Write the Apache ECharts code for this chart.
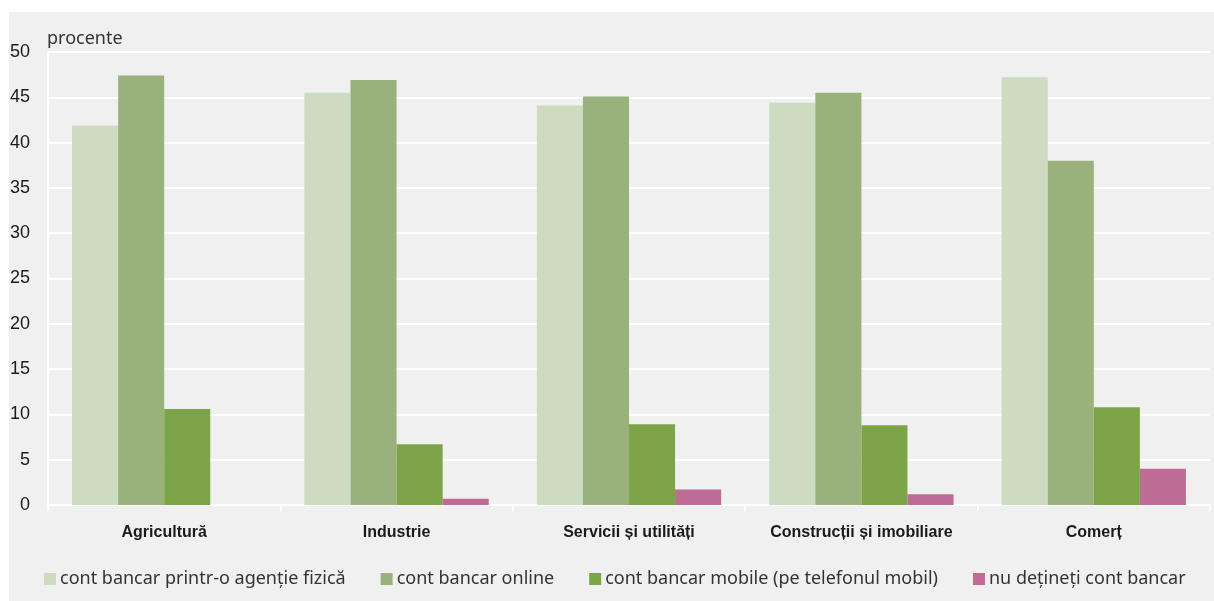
<!DOCTYPE html>
<html>
<head>
<meta charset="utf-8">
<script src="https://cdn.jsdelivr.net/npm/echarts@6/dist/echarts.min.js"></script>
<style>
  html, body { margin: 0; padding: 0; background: #ffffff; }
  #chart { width: 1214px; height: 601px; }
</style>
</head>
<body>
<div id="chart"></div>
<script>
// Sectoare de activitate
const categories = ['Agricultură', 'Industrie', 'Servicii și utilități', 'Construcții și imobiliare', 'Comerț'];

// Procente pe tip de cont bancar
const agentieFizica = [41.9, 45.5, 44.1, 44.4, 47.2];
const online        = [47.4, 46.9, 45.1, 45.5, 38.0];
const mobile        = [10.6, 6.7, 8.9, 8.8, 10.8];
const faraCont      = [0, 0.7, 1.7, 1.2, 4.0];

const seriesNames = [
  'cont bancar printr-o agenție fizică',
  'cont bancar online',
  'cont bancar mobile (pe telefonul mobil)',
  'nu dețineți cont bancar'
];
const seriesColors = ['#cddbc1', '#99b27c', '#7ea44a', '#be6b95'];
const seriesData = [agentieFizica, online, mobile, faraCont];

const yTicks = [0, 5, 10, 15, 20, 25, 30, 35, 40, 45, 50];

const condensed = '"Liberation Sans Narrow", "Liberation Sans", sans-serif';

const chart = echarts.init(document.getElementById('chart'), null, { renderer: 'canvas' });

chart.setOption({
  animation: false,
  backgroundColor: '#ffffff',
  graphic: [
    {
      type: 'rect',
      z: -10,
      silent: true,
      shape: { x: 9, y: 12, width: 1205, height: 589 },
      style: { fill: '#f0f0f0' }
    },
    {
      type: 'text',
      left: 47,
      top: 30,
      silent: true,
      style: {
        text: 'procente',
        fill: '#333333',
        font: '18px "Noto Sans", sans-serif'
      }
    }
  ],
  grid: { left: 48, right: 4, top: 52, bottom: 96, containLabel: false },
  legend: {
    left: 44,
    top: 570,
    padding: 0,
    itemWidth: 12,
    itemHeight: 12,
    itemGap: 35,
    icon: 'rect',
    textStyle: { fontFamily: '"Noto Sans", sans-serif', fontSize: 18, color: '#333333', padding: [0, 0, 0, -1] },
    data: seriesNames
  },
  xAxis: {
    type: 'category',
    data: categories,
    axisLine: { show: true, lineStyle: { color: '#ffffff', width: 2 } },
    axisTick: { show: true, interval: 0, length: 6, lineStyle: { color: '#ffffff', width: 2 } },
    axisLabel: {
      interval: 0,
      margin: 20,
      fontFamily: condensed,
      fontWeight: 'bold',
      fontSize: 16,
      color: '#1a1a1a'
    },
    splitLine: { show: false }
  },
  yAxis: {
    type: 'value',
    min: yTicks[0],
    max: yTicks[yTicks.length - 1],
    interval: 5,
    axisLine: { show: true, lineStyle: { color: '#ffffff', width: 2 } },
    axisTick: { show: false },
    axisLabel: {
      margin: 18,
      fontFamily: condensed,
      fontSize: 18,
      color: '#1a1a1a'
    },
    splitLine: { show: true, lineStyle: { color: '#ffffff', width: 2 } }
  },
  series: seriesNames.map((name, i) => ({
    name: name,
    type: 'bar',
    data: seriesData[i],
    barGap: '0%',
    barCategoryGap: '20.7%',
    itemStyle: { color: seriesColors[i] }
  }))
});
</script>
</body>
</html>
